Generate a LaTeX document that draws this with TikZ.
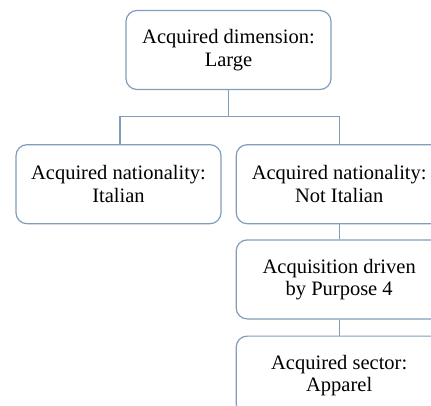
\documentclass[tikz,border=0pt]{standalone}
\usepackage{fontspec}
\setmainfont{Liberation Serif}
\usetikzlibrary{positioning, calc}

\definecolor{boxline}{RGB}{128,157,188}

\begin{document}
\begin{tikzpicture}
   [
      box/.style={rectangle, draw=boxline, line width=1.2pt, rounded corners=11pt,
                  minimum width=205pt, minimum height=79pt, align=center,
                  font=\fontsize{20.5}{22.5}\selectfont},
      link/.style={draw=boxline, line width=1.2pt}
   ]

   % page frame (the right column runs off the page)
   \clip (0,0) rectangle (431pt,-405pt);
   \fill[white] (0,0) rectangle (431pt,-405pt);

   % =======================================================
   % Top level
   % =======================================================
   \node[box] (dimension) at (228.5pt,-50pt) {Acquired dimension:\\Large};

   % =======================================================
   % Second level
   % =======================================================
   \node[box, below=54pt of dimension, xshift=-110pt] (italian) {Acquired nationality:\\Italian};
   \node[box, right=14pt of italian, minimum width=206pt] (notitalian) {Acquired nationality:\\Not Italian};

   % =======================================================
   % Right column
   % =======================================================
   \node[box, below=15pt of notitalian, minimum width=206pt] (purpose) {Acquisition driven\\by Purpose 4};
   \node[box, below=16pt of purpose, minimum width=206pt] (sector) {Acquired sector:\\Apparel};

   % Connectors
   \coordinate (split) at ($(dimension.south) + (0,-26pt)$);
   \draw[link] (dimension.south) -- (split);
   \draw[link] (split) -| ($(italian.north) + (1.5pt,0)$);
   \draw[link] (split) -| (notitalian.north);
   \draw[link] (notitalian.south) -- (purpose.north);
   \draw[link] (purpose.south) -- (sector.north);

\end{tikzpicture}
\end{document}
